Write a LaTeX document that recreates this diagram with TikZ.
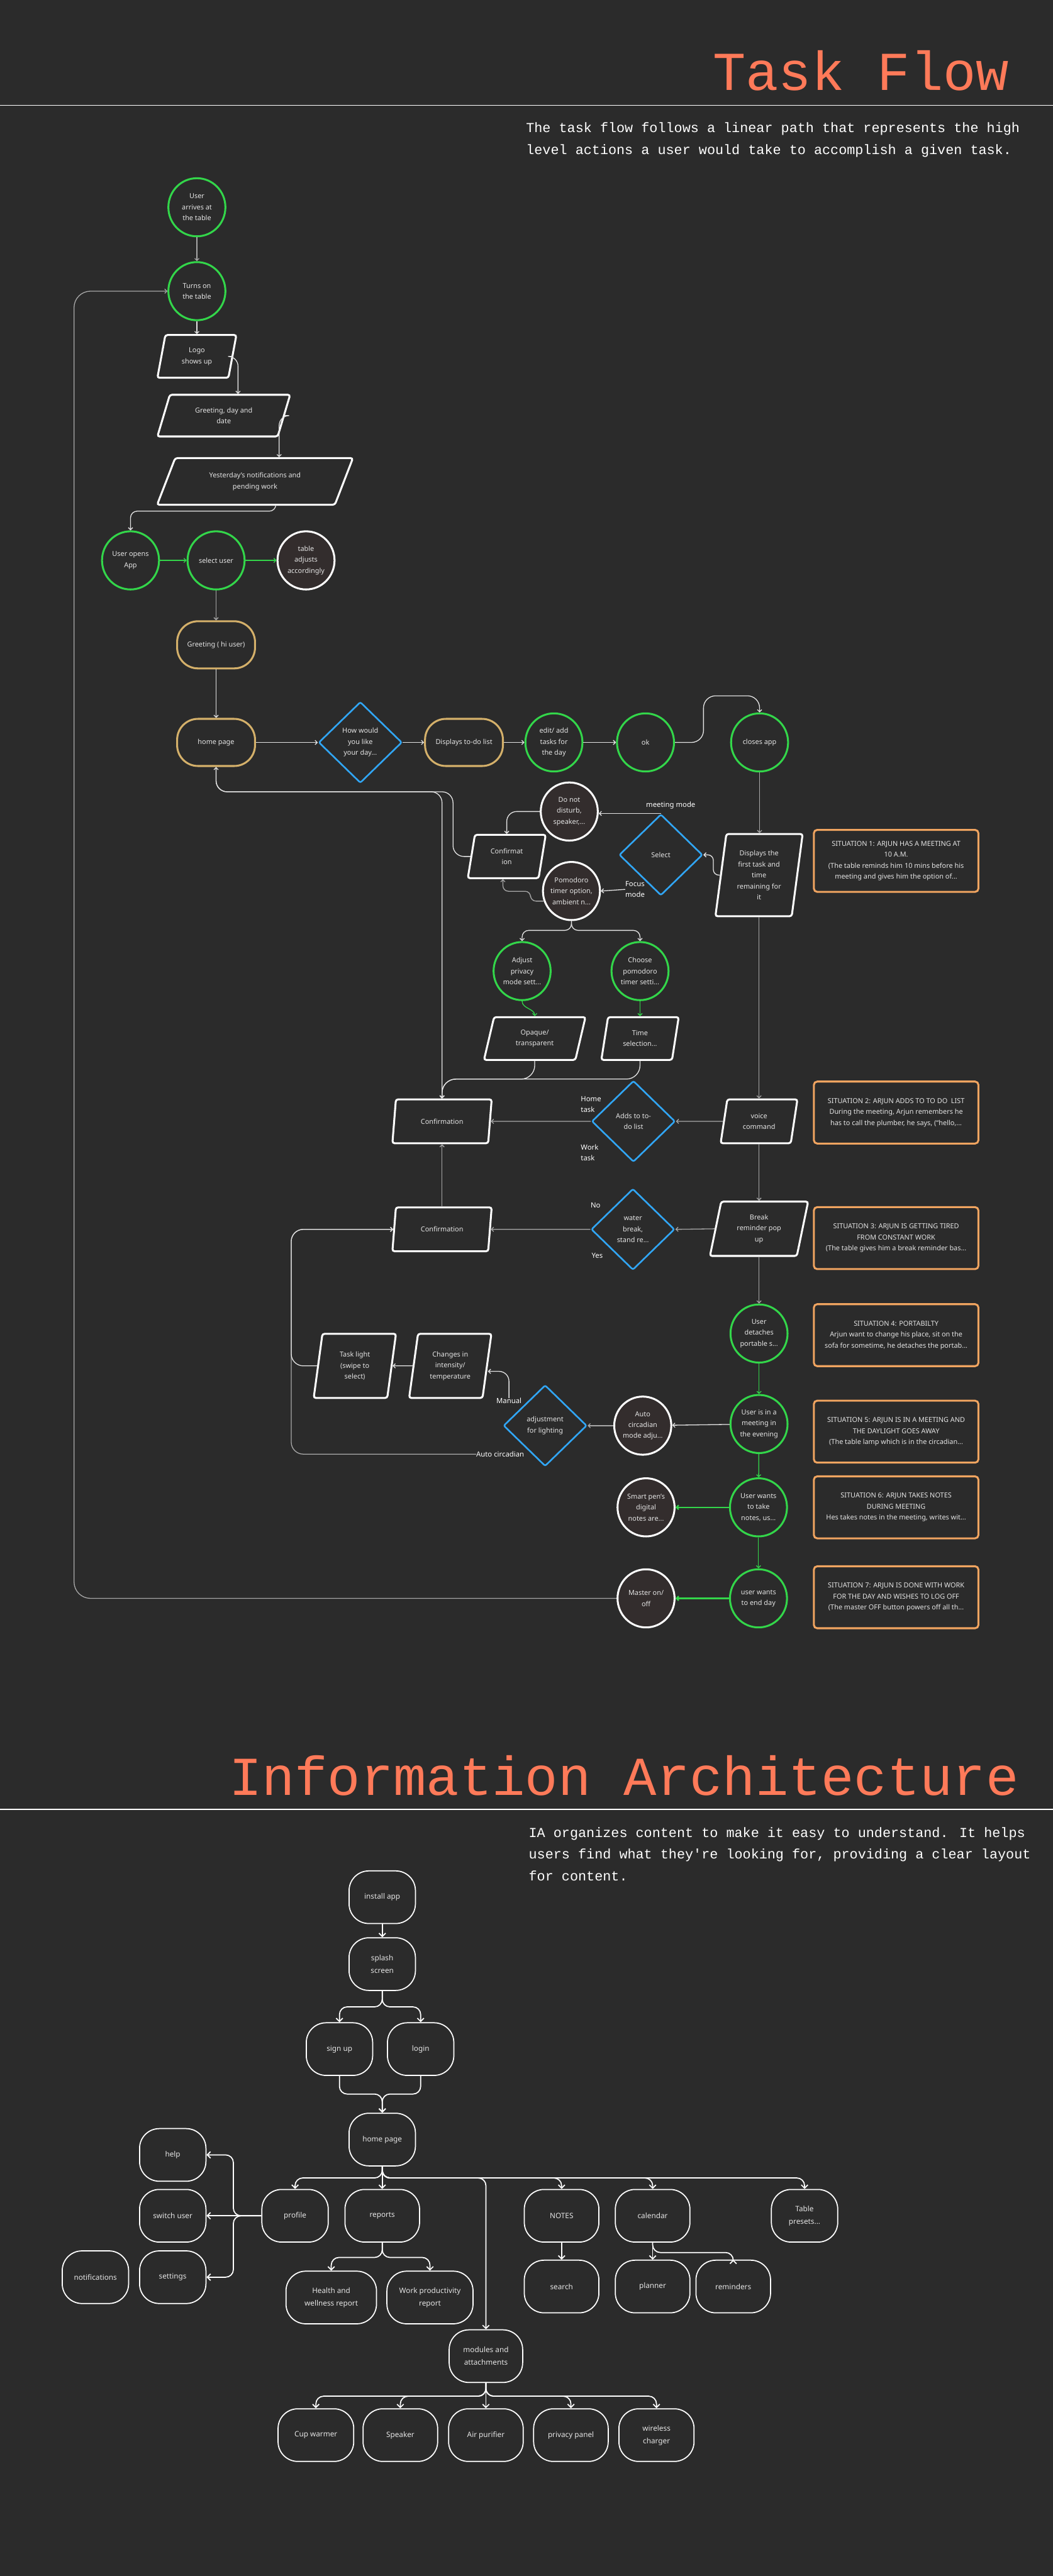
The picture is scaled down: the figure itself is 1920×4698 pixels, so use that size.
\documentclass[tikz,border=0pt]{standalone}
\usepackage{fontspec}
\setmainfont{Noto Sans}
\newfontfamily\monofont{Liberation Mono}
\usetikzlibrary{positioning,arrows.meta,shapes.geometric}
\definecolor{bgc}{HTML}{2B2B2B}
\definecolor{grn}{HTML}{33D64A}
\definecolor{blu}{HTML}{31A6F5}
\definecolor{gld}{HTML}{D4B06A}
\definecolor{org}{HTML}{F0A460}
\definecolor{ttl}{HTML}{FF7A59}
\definecolor{brn}{HTML}{332D2D}
\definecolor{txt}{HTML}{E4E4E4}
\definecolor{lg}{HTML}{A8A8A8}

\begin{document}
\begin{tikzpicture}[
  x=1pt, y=-1pt,
  font=\fontsize{12.5}{20}\selectfont, text=txt,
  >={Straight Barb[length=4pt,width=8pt]},
  tx/.style={align=center, text=txt, inner sep=0pt},
  gc/.style={ellipse, draw=grn, line width=3.5, fill=bgc, minimum width=104,
             minimum height=106, label={[tx]center:#1}},
  wc/.style={ellipse, draw=white, line width=3.5, fill=brn, minimum width=104,
             minimum height=106, label={[tx]center:#1}},
  pg/.style n args={4}{trapezium, trapezium stretches body, draw=white,
             line width=3.5, rounded corners=4, fill=bgc, align=center, inner sep=2,
             minimum width=#1, minimum height=#2, trapezium left angle=#3,
             trapezium right angle=#4},
  dm/.style={diamond, draw=blu, line width=3, fill=bgc, align=center, inner sep=0,
             minimum width=152, minimum height=148, rounded corners=3},
  gd/.style={rectangle, rounded corners=38, draw=gld, line width=3.5, fill=bgc,
             minimum width=142, minimum height=86, align=center},
  sit/.style={rectangle, rounded corners=6, draw=org, line width=3.5, fill=bgc,
             minimum width=300, minimum height=113, align=center},
  ia/.style={rectangle, rounded corners=36, draw=white, line width=2, fill=bgc,
             minimum width=121, minimum height=96, align=center,
             font=\fontsize{13.5}{23}\selectfont},
  lb/.style={text=white, font=\fontsize{13}{20}\selectfont, inner sep=0, align=left},
  ln/.style={draw=lg, line width=1.5, ->},
  wl/.style={draw=txt, line width=1.5, ->},
  gl/.style={draw=grn, line width=1.5, ->},
  il/.style={draw=white, line width=2, -{Straight Barb[length=6pt,width=12pt]},
             rounded corners=14}
]
\useasboundingbox (0,0) rectangle (1920,4698);
\fill[bgc] (0,0) rectangle (1920,4698);

\node[anchor=base east, text=ttl, inner sep=0,
  font=\monofont\fontsize{100}{100}\selectfont] (tftitle) at (1840,165) {Task Flow};
\draw[white, line width=2] (0,192) -- (1920,192);
\node[anchor=north west, align=left, text=white, inner sep=0,
  font=\monofont\fontsize{25}{40}\selectfont] (tfdesc) at (959,223)
  {The task flow follows a linear path that represents the high\\level actions a user would take to accomplish a given task.};

\node[gc={User\\arrives at\\the table}] (arrive) at (359,378) {};
\node[gc={Turns on\\the table}] (turn) at (359,531) {};
\node[pg={144}{78}{68}{112}] (logo) at (359,650) {Logo\\shows up};
\node[pg={242}{76}{56}{124}] (greetd) at (408,758) {Greeting, day and\\date};
\node[pg={357}{85}{48}{132}] (yest) at (465,878) {Yesterday’s notifications and\\pending work};
\node[gc={User opens\\App}] (open) at (238,1022) {};
\node[gc={select user}] (sel) at (394,1022) {};
\node[wc={table\\adjusts\\accordingly}] (adj) at (558,1022) {};
\node[gd] (hi) at (394,1176) {Greeting ( hi user)};
\node[gd] (home) at (394,1354) {home page};
\node[dm] (how) at (657,1354) {How would\\you like\\your day...};
\node[gd] (todo) at (846,1354) {Displays to-do list};
\node[gc={edit/ add\\tasks for\\the day}] (edit) at (1010,1354) {};
\node[gc={ok}] (ok) at (1177,1354) {};
\node[gc={closes app}] (close) at (1385,1354) {};
\node[pg={159}{150}{78}{102}] (first) at (1384,1596) {Displays the\\first task and\\time\\remaining for\\it};
\node[dm] (mode) at (1205,1559) {Select};
\node[wc={Do not\\disturb,\\speaker,...}] (dnd) at (1038,1480) {};
\node[wc={Pomodoro\\timer option,\\ambient n...}] (pomo) at (1042,1625) {};
\node[pg={142}{79}{69}{111}] (conf1) at (924,1562) {Confirmat\\ion};
\node[gc={Adjust\\privacy\\mode sett...}] (priv) at (952,1771) {};
\node[gc={Choose\\pomodoro\\timer setti...}] (choose) at (1167,1771) {};
\node[pg={185}{78}{63}{117}] (opq) at (975,1894) {Opaque/\\transparent};
\node[pg={141}{78}{70}{110}] (tsel) at (1167,1894) {Time\\selection...};
\node[dm] (adds) at (1155,2045) {Adds to to-\\do list};
\node[pg={140}{80}{70}{110}] (voice) at (1384,2045) {voice\\command};
\node[pg={181}{80}{65}{115}] (conf2) at (806,2045) {Confirmation};
\node[pg={179}{99}{70}{110}] (brk) at (1384,2241) {Break\\reminder pop\\up};
\node[dm] (water) at (1154,2242) {water\\break,\\stand re...};
\node[pg={181}{80}{65}{115}] (conf3) at (806,2242) {Confirmation};
\node[gc={User\\detaches\\portable s...}] (detach) at (1384,2432) {};
\node[gc={User is in a\\meeting in\\the evening}] (meet) at (1384,2597) {};
\node[wc={Auto\\circadian\\mode adju...}] (auto) at (1172,2600) {};
\node[dm] (adjl) at (994,2600) {adjustment\\for lighting};
\node[pg={150}{117}{74}{106}] (chg) at (821,2491) {Changes in\\intensity/\\temperature};
\node[pg={150}{117}{74}{106}] (task) at (647,2491) {Task light\\(swipe to\\select)};
\node[gc={User wants\\to take\\notes, us...}] (notes) at (1383,2749) {};
\node[wc={Smart pen’s\\digital\\notes are...}] (pen) at (1178,2749) {};
\node[gc={user wants\\to end day}] (endd) at (1383,2915) {};
\node[wc={Master on/\\off}] (master) at (1178,2915) {};

\node[sit] (s1) at (1634,1570) {{\bfseries SITUATION 1: ARJUN HAS A MEETING AT}\\{\bfseries 10 A.M.}\\(The table reminds him 10 mins before his\\meeting and gives him the option of...};
\node[sit] (s2) at (1634,2029) {{\bfseries SITUATION 2: ARJUN ADDS TO TO DO \ LIST}\\During the meeting, Arjun remembers he\\has to call the plumber, he says, (“hello,...};
\node[sit] (s3) at (1634,2258) {{\bfseries SITUATION 3: ARJUN IS GETTING TIRED}\\{\bfseries FROM CONSTANT WORK}\\(The table gives him a break reminder bas...};
\node[sit] (s4) at (1634,2435) {{\bfseries SITUATION 4: PORTABILTY}\\Arjun want to change his place, sit on the\\sofa for sometime, he detaches the portab...};
\node[sit] (s5) at (1634,2611) {{\bfseries SITUATION 5: ARJUN IS IN A MEETING AND}\\{\bfseries THE DAYLIGHT GOES AWAY}\\(The table lamp which is in the circadian...};
\node[sit] (s6) at (1634,2749) {{\bfseries SITUATION 6: ARJUN TAKES NOTES}\\{\bfseries DURING MEETING}\\Hes takes notes in the meeting, writes wit...};
\node[sit] (s7) at (1634,2913) {{\bfseries SITUATION 7: ARJUN IS DONE WITH WORK}\\{\bfseries FOR THE DAY AND WISHES TO LOG OFF}\\(The master OFF button powers off all th...};

\node[lb, anchor=west] (focus) at (1140,1622) {Focus\\mode};
\node[lb, anchor=west] (hometask) at (1059,2014) {Home\\task};
\node[lb, anchor=west] (worktask) at (1059,2102) {Work\\task};
\node[lb] (no) at (1086,2198) {No};
\node[lb] (yes) at (1089,2290) {Yes};
\node[lb] (manual) at (928,2555) {Manual};
\node[lb] (autoc) at (912,2652) {Auto circadian};

\draw[ln] (arrive) -- (turn);
\draw[wl] (turn) -- (logo);
\draw[wl, rounded corners=18] (logo.east) -| ([xshift=26]greetd.north);
\draw[wl, rounded corners=18] (greetd.east) -| ([xshift=44]yest.north);
\draw[wl, rounded corners=12] ([xshift=38]yest.south) -- ++(0,10) -| (open.north);
\draw[gl] (open) -- (sel);
\draw[gl] (sel) -- (adj);
\draw[ln] (sel) -- (hi);
\draw[wl] (hi) -- (home);
\draw[wl] (home) -- (how);
\draw[wl] (how) -- (todo);
\draw[wl] (todo) -- (edit);
\draw[wl] (edit) -- (ok);
\draw[wl, rounded corners=22] (ok.east) -| ++(52,-85) -| (close.north);
\draw[ln] (close.south) -- (close.south |- first.north);
\draw[wl, rounded corners=10] (first.west) -- ++(-12,0) |- (mode.east);
\draw[wl] (mode.north) -- node[lb, pos=0, above=8pt, xshift=18pt] {meeting mode} (dnd.east |- mode.north);
\draw[wl] (focus.west) -- (pomo.east);
\draw[wl, rounded corners=18] (dnd.west) -| (conf1.north -| conf1.center);
\draw[ln, rounded corners=10] (pomo.200) -| ++(-24,-18) -| ([xshift=-7]conf1.south);
\draw[wl, rounded corners=20] (conf1.west) -| (826,1444) -| (home.south);
\draw[wl, rounded corners=20] (home.south) |- (806,1444) -- (conf2.north -| conf2.center);
\draw[wl, rounded corners=12] (pomo.south) -- ++(0,17) -| (priv.north);
\draw[wl, rounded corners=12] (pomo.south) -- ++(0,17) -| (choose.north);
\draw[gl] (priv.south) to[out=-90, in=90] (opq.north -| opq.center);
\draw[gl] (choose.south) -- (choose.south |- tsel.north);
\draw[wl, rounded corners=25] (opq.south -| opq.center) |- (806,1968) -- (conf2.north -| conf2.center);
\draw[wl, rounded corners=25] (tsel.south -| tsel.center) |- (806,1968) -- (conf2.north -| conf2.center);
\draw[ln] (first.south -| first.center) -- (voice.north -| first.center);
\draw[ln] (voice.west) -- (adds.east);
\draw[ln] (adds.west) -- (conf2.east);
\draw[ln] (voice.south -| voice.center) -- (brk.north -| voice.center);
\draw[ln] (brk.west) -- (water.east);
\draw[ln] (water.west) -- (conf3.east);
\draw[ln] (conf3.north -| conf3.center) -- (conf2.south -| conf3.center);
\draw[ln] (brk.south -| brk.center) -- (detach);
\draw[gl] (detach) -- (meet);
\draw[wl] (meet) -- (auto);
\draw[ln] (auto) -- (adjl);
\draw[wl, rounded corners=18] (manual.north) |- ([yshift=-10]chg.east);
\draw[ln, rounded corners=22] (autoc.west) -| (531,2242) -- (conf3.west);
\draw[wl] (chg.west) -- (task.east);
\draw[wl, rounded corners=22] (task.west) -| (531,2242) -- (conf3.west);
\draw[gl] (meet) -- (notes);
\draw[gl, line width=2.5] (notes) -- (pen);
\draw[gl] (notes) -- (endd);
\draw[gl, line width=2.5] (endd) -- (master);
\draw[ln, rounded corners=30] (master.west) -| (135,531) -- (turn.west);

\node[anchor=base east, text=ttl, inner sep=0,
  font=\monofont\fontsize{100}{100}\selectfont] (iatitle) at (1858,3274) {Information Architecture};
\draw[white, line width=2] (0,3300) -- (1920,3300);
\node[anchor=north west, align=left, text=white, inner sep=0,
  font=\monofont\fontsize{25}{40}\selectfont] (iadesc) at (964,3332)
  {IA organizes content to make it easy to understand. It helps\\users find what they're looking for, providing a clear layout\\for content.};

\node[ia] (inst) at (697,3460) {install app};
\node[ia] (spl) at (697,3582) {splash\\screen};
\node[ia] (sgn) at (619,3737) {sign up};
\node[ia] (lgn) at (767,3737) {login};
\node[ia] (hm) at (697,3902) {home page};
\node[ia] (help) at (315,3930) {help};
\node[ia] (sw) at (315,4041) {switch user};
\node[ia] (sett) at (315,4153) {settings};
\node[ia] (noti) at (174,4153) {notifications};
\node[ia] (prof) at (538,4041) {profile};
\node[ia, minimum width=136] (rep) at (697,4041) {reports};
\node[ia, minimum width=165] (hlth) at (604,4190) {Health and\\wellness report};
\node[ia, minimum width=157] (work) at (784,4190) {Work productivity\\report};
\node[ia, minimum width=136] (nts) at (1024,4041) {NOTES};
\node[ia, minimum width=136] (cal) at (1190,4041) {calendar};
\node[ia] (tbl) at (1467,4041) {Table\\presets...};
\node[ia, minimum width=136] (srch) at (1024,4170) {search};
\node[ia, minimum width=136] (plan) at (1190,4170) {planner};
\node[ia, minimum width=136] (rem) at (1337,4170) {reminders};
\node[ia, minimum width=134] (mod) at (886,4297) {modules and\\attachments};
\node[ia, minimum width=138] (cup) at (576,4441) {Cup warmer};
\node[ia, minimum width=136] (spk) at (730,4441) {Speaker};
\node[ia, minimum width=136] (air) at (886,4441) {Air purifier};
\node[ia, minimum width=136] (prvp) at (1041,4441) {privacy panel};
\node[ia, minimum width=137] (wls) at (1197,4441) {wireless\\charger};

\draw[il] (inst) -- (spl);
\draw[il] (spl.south) -- ++(0,29) -| (sgn.north);
\draw[il] (spl.south) -- ++(0,29) -| (lgn.north);
\draw[il] (sgn.south) |- ([yshift=34]hm.north) -- (hm.north);
\draw[il] (lgn.south) |- ([yshift=34]hm.north) -- (hm.north);
\draw[il] (hm.south) -- ++(0,21) -| (prof.north);
\draw[il] (hm) -- (rep);
\draw[il] (hm.south) -- ++(0,21) -| (nts.north);
\draw[il] (hm.south) -- ++(0,21) -| (cal.north);
\draw[il] (hm.south) -- ++(0,21) -| (tbl.north);
\draw[il] (hm.south) -- ++(0,21) -| (mod.north);
\draw[il] (prof.west) -- ++(-51,0) |- (help.east);
\draw[il] (prof.west) -- (sw.east);
\draw[il] (prof.west) -- ++(-51,0) |- (sett.east);
\draw[il] (rep.south) -- ++(0,27) -| (hlth.north);
\draw[il] (rep.south) -- ++(0,27) -| (work.north);
\draw[il] (nts) -- (srch);
\draw[il] (cal) -- (plan);
\draw[il] (cal.south) -- ++(0,18) -| (rem.north);
\draw[il] (mod.south) -- ++(0,24) -| (cup.north);
\draw[il] (mod.south) -- ++(0,24) -| (spk.north);
\draw[il] (mod) -- (air);
\draw[il] (mod.south) -- ++(0,24) -| (prvp.north);
\draw[il] (mod.south) -- ++(0,24) -| (wls.north);
\end{tikzpicture}
\end{document}
